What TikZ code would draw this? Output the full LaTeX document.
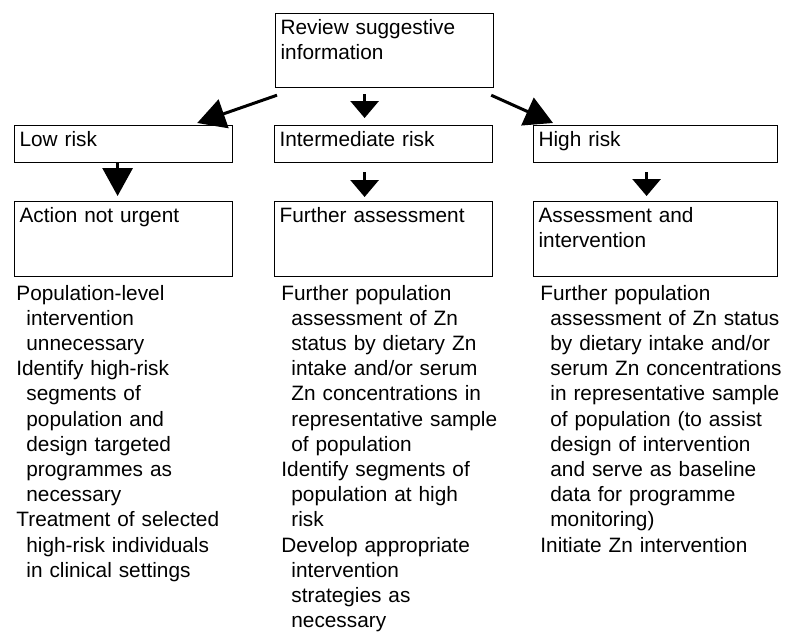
\documentclass[tikz,border=0pt]{standalone}
\usepackage{fontspec}
\setmainfont{Liberation Sans}
\usetikzlibrary{arrows.meta}

\newcommand{\subline}{\hspace*{5pt}}

\begin{document}
\begin{tikzpicture}[x=0.5pt,y=0.5pt]
	\tikzstyle{every node}+=[inner sep=0pt, font=\fontsize{10.4}{12.6}\selectfont]
	\tikzstyle{box}=[draw=black, line width=0.6pt, anchor=north west, align=left, inner xsep=2.5pt, text height=10.5pt]
	\tikzstyle{steps}=[anchor=base west, align=left, text width=130pt]
	\tikzstyle{go}=[black, line width=1.5pt, -{Triangle[width=14pt,length=8.5pt]}]
	\tikzstyle{gobig}=[black, line width=1.5pt, -{Triangle[width=15pt,length=14pt]}]
	\useasboundingbox (0,0) rectangle (787,-633);
	\node [box, text width=104pt, text depth=26.5pt] (review) at (275,-13) {Review suggestive\\information};
	\node [box, text width=104pt, text depth=8pt] (low) at (14,-125) {Low risk};
	\node [box, text width=104pt, text depth=8pt] (mid) at (274,-125) {Intermediate risk};
	\node [box, text width=117pt, text depth=8pt] (high) at (533,-125) {High risk};
	\node [box, text width=104pt, text depth=27pt] (lowact) at (14,-201) {Action not urgent};
	\node [box, text width=104pt, text depth=27pt] (midact) at (274,-201) {Further assessment};
	\node [box, text width=117pt, text depth=27pt] (highact) at (533,-201) {Assessment and\\intervention};
	\draw [gobig] ([shift={(2,-7)}]review.south west) -- ([shift={(-36,2)}]low.north east);
	\draw [go] ([shift={(-20,-6)}]review.south) -- ([shift={(-19,7)}]mid.north);
	\draw [gobig] ([shift={(-3,-7)}]review.south east) -- ([shift={(20,2)}]high.north west);
	\draw [gobig] ([shift={(-6,0)}]low.south) -- ([shift={(-6,5)}]lowact.north);
	\draw [go] ([shift={(-19,-9)}]mid.south) -- ([shift={(-19,4)}]midact.north);
	\draw [go] ([shift={(-9,-9)}]high.south) -- ([shift={(-9,5)}]highact.north);
	\node [steps] (lowsteps) at (16,-300) {Population-level\\
		\subline intervention\\
		\subline unnecessary\\
		Identify high-risk\\
		\subline segments of\\
		\subline population and\\
		\subline design targeted\\
		\subline programmes as\\
		\subline necessary\\
		Treatment of selected\\
		\subline high-risk individuals\\
		\subline in clinical settings};
	\node [steps] (midsteps) at (281,-300) {Further population\\
		\subline assessment of Zn\\
		\subline status by dietary Zn\\
		\subline intake and/or serum\\
		\subline Zn concentrations in\\
		\subline representative sample\\
		\subline of population\\
		Identify segments of\\
		\subline population at high\\
		\subline risk\\
		Develop appropriate\\
		\subline intervention\\
		\subline strategies as\\
		\subline necessary};
	\node [steps] (highsteps) at (540,-300) {Further population\\
		\subline assessment of Zn status\\
		\subline by dietary intake and/or\\
		\subline serum Zn concentrations\\
		\subline in representative sample\\
		\subline of population (to assist\\
		\subline design of intervention\\
		\subline and serve as baseline\\
		\subline data for programme\\
		\subline monitoring)\\
		Initiate Zn intervention};
\end{tikzpicture}
\end{document}
